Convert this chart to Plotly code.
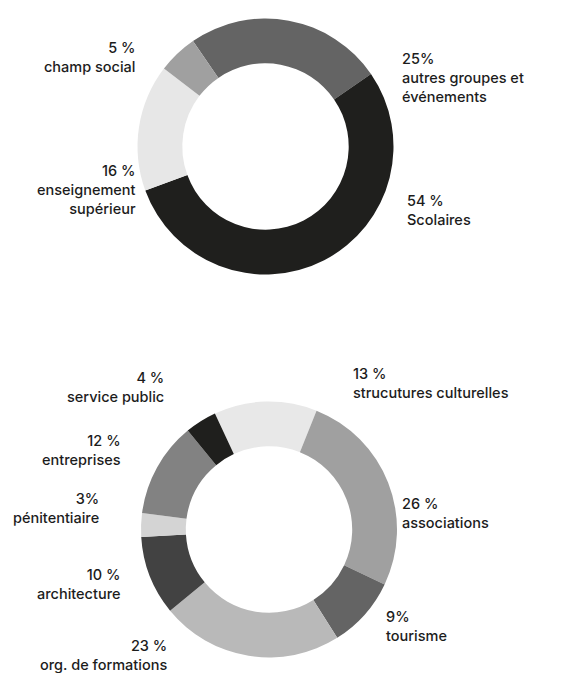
import plotly.graph_objects as go

# page is 579x673; the plot div sits at the default 8px body margin
OFF = 8
W, H = 579 - OFF, 673 - OFF

# ---- data ----
top_labels = ["autres groupes et événements", "Scolaires", "enseignement supérieur", "champ social"]
top_values = [25, 54, 16, 5]
top_pct_text = ["25%", "54 %", "16 %", "5 %"]
top_label_text = ["autres groupes et<br>événements", "Scolaires", "enseignement<br>supérieur", "champ social"]
top_colors = ["#646464", "#1f1f1d", "#e7e7e7", "#a0a0a0"]

bot_labels = ["strucutures culturelles", "associations", "tourisme", "org. de formations",
              "architecture", "pénitentiaire", "entreprises", "service public"]
bot_values = [13, 26, 9, 23, 10, 3, 12, 4]
bot_pct_text = ["13 %", "26 %", "9%", "23 %", "10 %", "3%", "12 %", "4 %"]
bot_label_text = ["strucutures culturelles", "associations", "tourisme", "org. de formations",
                  "architecture", "pénitentiaire", "entreprises", "service public"]
bot_colors = ["#e8e8e8", "#a0a0a0", "#646464", "#b9b9b9", "#424242", "#d4d4d4", "#828282", "#1f1f1d"]

# ---- layout positions (page pixels): (anchor x, block center y, side) ----
top_pos = [(400, 77, "left"), (405, 209.5, "left"), (137.5, 190, "right"), (137.5, 57.5, "right")]
bot_pos = [(351, 383, "left"), (400, 513.5, "left"), (384, 626, "left"), (169, 655, "right"),
           (123, 583.5, "right"), (101, 507.5, "right"), (123, 450, "right"), (166, 387, "right")]

R = 128
def dom(cx, cy):
    cx -= OFF
    cy -= OFF
    return dict(x=[(cx - R) / W, (cx + R) / W], y=[(H - cy - R) / H, (H - cy + R) / H])

fig = go.Figure()
fig.add_trace(go.Pie(labels=top_labels, values=top_values, marker=dict(colors=top_colors, line=dict(width=0)),
                     hole=0.65, sort=False, direction="clockwise", rotation=-34.5,
                     textinfo="none", hoverinfo="label+percent", domain=dom(265.5, 146.5), showlegend=False))
fig.add_trace(go.Pie(labels=bot_labels, values=bot_values, marker=dict(colors=bot_colors, line=dict(width=0)),
                     hole=0.65, sort=False, direction="clockwise", rotation=-25,
                     textinfo="none", hoverinfo="label+percent", domain=dom(269, 529.5), showlegend=False))

annotations = []
for pct, lab, (px, py, side) in list(zip(top_pct_text, top_label_text, top_pos)) + list(zip(bot_pct_text, bot_label_text, bot_pos)):
    annotations.append(dict(
        text=f"{pct}<br>{lab}", x=(px - OFF) / W, y=1 - (py - OFF) / H, xref="paper", yref="paper",
        xanchor=side, yanchor="middle", align=side, showarrow=False,
        font=dict(family="Inter", size=14.5, color="#1c1c1c", weight=500)))

fig.update_layout(width=W, height=H, margin=dict(l=0, r=0, t=0, b=0),
                  paper_bgcolor="white", plot_bgcolor="white", annotations=annotations)
fig.write_html("out.html")
